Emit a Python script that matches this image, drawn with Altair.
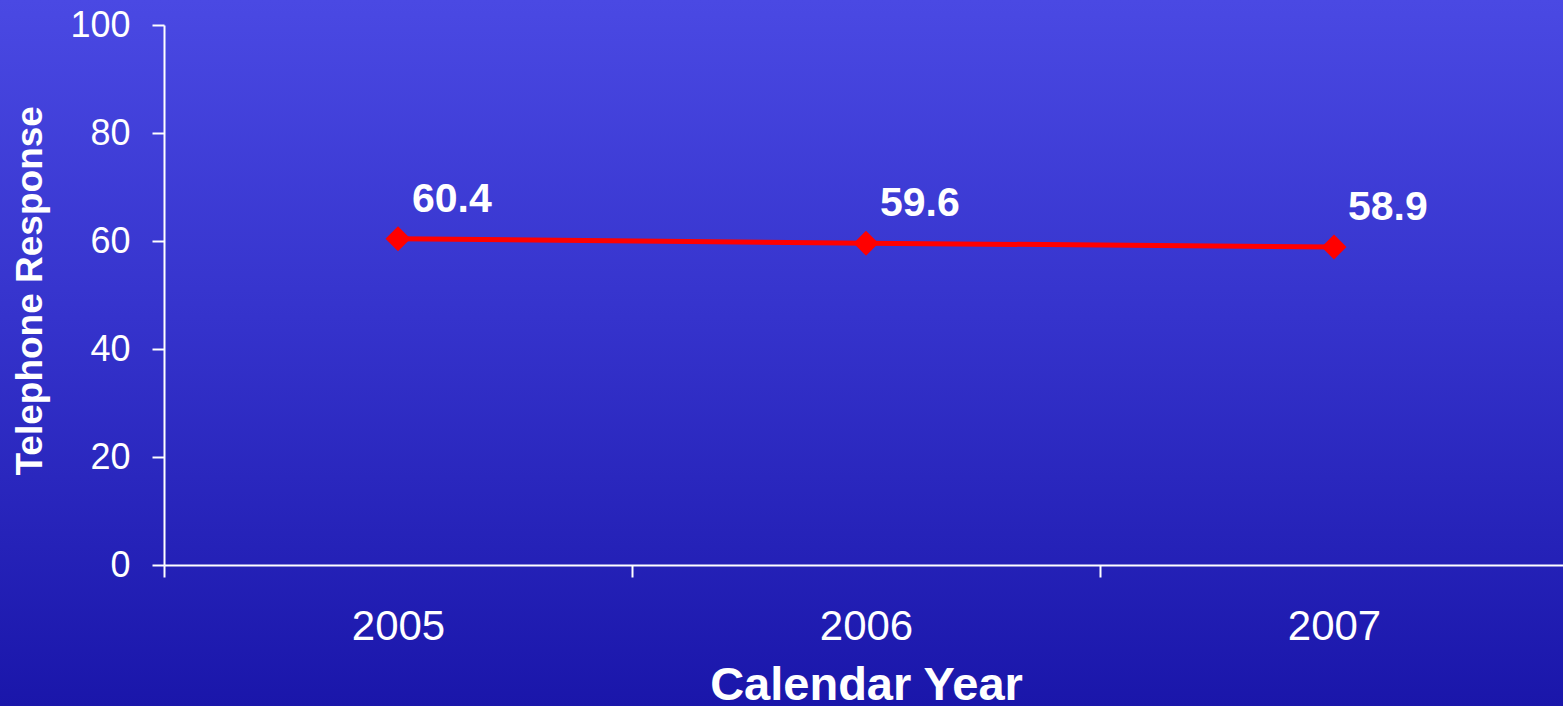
import altair as alt
import pandas as pd

# Yearly telephone response values
years = ["2005", "2006", "2007"]
values = [60.4, 59.6, 58.9]
y_ticks = [0, 20, 40, 60, 80, 100]

df = pd.DataFrame({"year": years, "value": values})

FONT = "Liberation Sans"
PLOT_W = 1399      # visible plot width
RANGE_W = 1404     # band range runs slightly past the right edge
PLOT_H = 540

x_enc = alt.X(
    "year:N",
    bandPosition=0.5,
    scale=alt.Scale(type="band", paddingInner=0, paddingOuter=0, range=[0, RANGE_W]),
    axis=alt.Axis(
        title="Calendar Year",
        labelAngle=0,
        tickBand="extent",
        tickSize=12,
        tickWidth=2,
        domainWidth=2,
        labelFontSize=42,
        labelPadding=62,
        labelBaseline="alphabetic",
        titleFontSize=47,
        titleFontWeight="bold",
        titleX=RANGE_W / 2,
        titleY=134,
        titleBaseline="alphabetic",
        zindex=1,
    ),
)

y_enc = alt.Y(
    "value:Q",
    scale=alt.Scale(domain=[0, 100], nice=False),
    axis=alt.Axis(
        values=y_ticks,
        title="Telephone Response",
        tickSize=12,
        tickWidth=2,
        domainWidth=2,
        labelFontSize=36,
        labelPadding=22,
        titleFontSize=37,
        titleFontWeight="bold",
        titleAngle=-90,
        titleX=-123,
        titleY=450,
        titleAlign="left",
        titleBaseline="alphabetic",
        zindex=1,
    ),
)

# Full-page vertical gradient behind everything
background = alt.Chart(pd.DataFrame({"k": [0]})).mark_rect(
    color=alt.LinearGradient(
        gradient="linear",
        stops=[
            alt.GradientStop(color="#4a49e3", offset=0),
            alt.GradientStop(color="#3533cc", offset=0.45),
            alt.GradientStop(color="#1a16aa", offset=1),
        ],
        x1=0, x2=0, y1=0, y2=1,
    )
).encode(
    x=alt.value(-164), x2=alt.value(PLOT_W + 10),
    y=alt.value(-25), y2=alt.value(PLOT_H + 141),
)

base = alt.Chart(df).encode(x=x_enc, y=y_enc)

line = base.mark_line(color="#ff0000", strokeWidth=5)
points = base.mark_point(shape="diamond", filled=True, size=625, color="#ff0000", opacity=1)
labels = base.mark_text(
    align="left", baseline="alphabetic", dx=14, dy=-27,
    fontSize=41, fontWeight="bold", color="white", font=FONT,
).encode(text=alt.Text("value:Q", format=".1f"))

chart = alt.layer(background, line, points, labels).properties(
    width=PLOT_W,
    height=PLOT_H,
    autosize=alt.AutoSizeParams(type="none"),
    padding={"left": 164, "top": 25, "right": 0, "bottom": 141},
    background="#1a16aa",
).configure_view(
    stroke=None,
).configure_axis(
    grid=False,
    domainColor="white",
    tickColor="white",
    labelColor="white",
    titleColor="white",
    labelFont=FONT,
    titleFont=FONT,
)

chart.save("out.html", embed_options={"renderer": "svg", "actions": False})
